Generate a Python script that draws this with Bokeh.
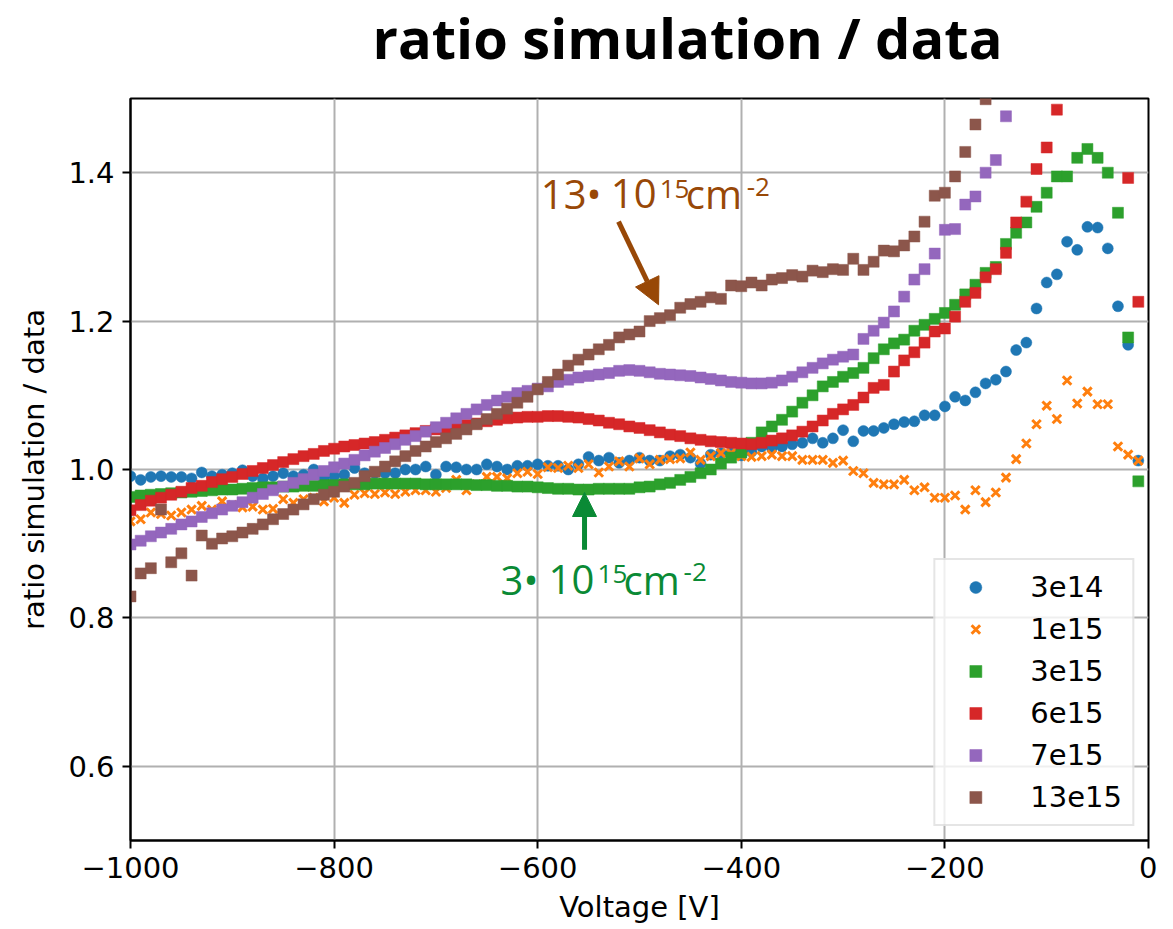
import math
from bokeh.plotting import figure
from bokeh.layouts import column
from bokeh.models import Label, Arrow, NormalHead, FixedTicker
from bokeh.embed import file_html
from bokeh.resources import INLINE

nan = float("nan")

# Voltage grid (V)
voltage = list(range(-1000, 0, 10))

s_3e14 = [0.991, 0.986, 0.990, 0.991, 0.990, 0.990, 0.988, 0.996, 0.991, 0.993,
          0.995, 0.999, 0.991, 0.988, 0.991, 0.995, 0.991, 0.993, 1.000, 0.988,
          0.991, 0.993, 1.002, 0.995, 0.995, 0.995, 0.995, 1.000, 1.000, 1.004,
          0.993, 1.004, 1.003, 1.000, 1.000, 1.007, 1.004, 1.000, 1.005, 1.005,
          1.007, 1.005, 1.005, 1.000, 1.007, 1.017, 1.012, 1.016, 1.009, 1.012,
          1.016, 1.012, 1.012, 1.018, 1.020, 1.016, 1.008, 1.020, 1.022, 1.022,
          1.019, 1.024, 1.031, 1.029, 1.031, 1.034, 1.036, 1.042, 1.036, 1.042,
          1.053, 1.038, 1.052, 1.052, 1.056, 1.061, 1.064, 1.065, 1.073, 1.073,
          1.085, 1.098, 1.093, 1.104, 1.116, 1.121, 1.132, 1.161, 1.171, 1.217,
          1.252, 1.263, 1.307, 1.296, 1.327, 1.326, 1.298, 1.220, 1.168, 1.012]

s_1e15 = [0.930, 0.933, 0.942, 0.940, 0.938, 0.942, 0.946, 0.951, 0.946, 0.957,
          0.952, 0.949, 0.950, 0.946, 0.947, 0.960, 0.955, 0.960, 0.962, 0.957,
          0.962, 0.955, 0.966, 0.968, 0.967, 0.969, 0.967, 0.970, 0.972, 0.972,
          0.970, 0.975, 0.986, 0.972, 0.980, 0.990, 0.990, 0.988, 0.995, 0.997,
          0.994, 1.003, 1.002, 1.005, 1.002, 1.007, 0.996, 1.004, 1.011, 1.004,
          1.015, 1.007, 1.013, 1.014, 1.015, 1.023, 1.013, 1.018, 1.022, 1.022,
          1.018, 1.017, 1.018, 1.020, 1.018, 1.018, 1.013, 1.013, 1.013, 1.009,
          1.012, 0.998, 0.995, 0.982, 0.980, 0.980, 0.986, 0.972, 0.976, 0.962,
          0.962, 0.965, 0.946, 0.972, 0.956, 0.969, 0.989, 1.014, 1.035, 1.061,
          1.086, 1.068, 1.120, 1.089, 1.105, 1.088, 1.088, 1.031, 1.020, 1.012]

s_3e15 = [0.963, 0.965, 0.966, 0.967, 0.968, 0.969, 0.970, 0.971, 0.972, 0.973,
          0.973, 0.974, 0.975, 0.976, 0.976, 0.977, 0.977, 0.978, 0.978, 0.979,
          0.979, 0.980, 0.980, 0.980, 0.981, 0.981, 0.981, 0.981, 0.981, 0.980,
          0.980, 0.980, 0.980, 0.980, 0.979, 0.979, 0.978, 0.978, 0.977, 0.977,
          0.976, 0.975, 0.974, 0.974, 0.973, 0.973, 0.974, 0.974, 0.974, 0.974,
          0.976, 0.977, 0.980, 0.982, 0.986, 0.990, 0.995, 1.000, 1.008, 1.016,
          1.023, 1.036, 1.050, 1.058, 1.067, 1.078, 1.090, 1.100, 1.112, 1.118,
          1.125, 1.130, 1.137, 1.150, 1.162, 1.170, 1.175, 1.187, 1.195, 1.203,
          1.211, 1.222, 1.236, 1.249, 1.265, 1.273, 1.304, 1.319, 1.333, 1.354,
          1.373, 1.395, 1.395, 1.420, 1.432, 1.420, 1.400, 1.346, 1.178, 0.984]

s_6e15 = [0.945, 0.952, 0.958, 0.962, 0.966, 0.970, 0.975, 0.978, 0.983, 0.987,
          0.990, 0.994, 0.998, 1.002, 1.006, 1.010, 1.014, 1.018, 1.021, 1.025,
          1.028, 1.031, 1.033, 1.035, 1.037, 1.040, 1.043, 1.046, 1.049, 1.052,
          1.054, 1.056, 1.058, 1.060, 1.062, 1.065, 1.067, 1.069, 1.070, 1.071,
          1.071, 1.072, 1.072, 1.071, 1.070, 1.068, 1.066, 1.063, 1.061, 1.058,
          1.056, 1.053, 1.050, 1.047, 1.045, 1.042, 1.040, 1.038, 1.037, 1.036,
          1.035, 1.034, 1.036, 1.039, 1.042, 1.046, 1.051, 1.058, 1.066, 1.075,
          1.081, 1.087, 1.097, 1.110, 1.114, 1.132, 1.147, 1.158, 1.171, 1.186,
          1.190, 1.206, 1.226, 1.238, 1.259, 1.270, 1.292, 1.333, 1.361, 1.405,
          1.434, 1.485, nan, nan, nan, nan, nan, nan, 1.393, 1.226]

s_7e15 = [0.899, 0.904, 0.910, 0.915, 0.920, 0.926, 0.930, 0.936, 0.941, 0.946,
          0.951, 0.956, 0.962, 0.967, 0.972, 0.977, 0.982, 0.987, 0.993, 0.998,
          1.003, 1.008, 1.013, 1.019, 1.024, 1.029, 1.034, 1.040, 1.045, 1.051,
          1.057, 1.063, 1.069, 1.075, 1.081, 1.087, 1.093, 1.098, 1.103, 1.106,
          1.109, 1.112, 1.118, 1.121, 1.124, 1.126, 1.128, 1.130, 1.133, 1.134,
          1.133, 1.131, 1.129, 1.128, 1.127, 1.126, 1.124, 1.122, 1.120, 1.118,
          1.117, 1.116, 1.116, 1.117, 1.120, 1.125, 1.131, 1.137, 1.143, 1.148,
          1.152, 1.155, 1.176, 1.187, 1.198, 1.213, 1.233, 1.256, 1.270, 1.291,
          1.323, 1.324, 1.357, 1.368, 1.400, 1.417, 1.476, nan, nan, nan,
          nan, nan, nan, nan, nan, nan, nan, nan, nan, nan]

s_13e15 = [0.829, 0.860, 0.867, 0.946, 0.875, 0.887, 0.857, 0.911, 0.900, 0.907,
           0.910, 0.915, 0.920, 0.926, 0.933, 0.940, 0.946, 0.953, 0.960, 0.966,
           0.970, 0.977, 0.982, 0.991, 0.997, 1.004, 1.011, 1.018, 1.025, 1.031,
           1.037, 1.042, 1.048, 1.054, 1.061, 1.068, 1.075, 1.082, 1.090, 1.098,
           1.108, 1.118, 1.128, 1.140, 1.148, 1.155, 1.162, 1.168, 1.178, 1.182,
           1.186, 1.200, 1.204, 1.208, 1.218, 1.223, 1.226, 1.232, 1.230, 1.248,
           1.247, 1.252, 1.248, 1.256, 1.258, 1.262, 1.260, 1.268, 1.266, 1.270,
           1.269, 1.284, 1.269, 1.280, 1.295, 1.294, 1.302, 1.314, 1.334, 1.369,
           1.373, 1.395, 1.428, 1.465, 1.499, nan, nan, nan, nan, nan,
           nan, nan, nan, nan, nan, nan, nan, nan, nan, nan]

series_labels = ["3e14", "1e15", "3e15", "6e15", "7e15", "13e15"]
series_values = [s_3e14, s_1e15, s_3e15, s_6e15, s_7e15, s_13e15]
series_colors = ["#1f77b4", "#ff7f0e", "#2ca02c", "#d62728", "#9467bd", "#8c564b"]
series_markers = ["circle", "x", "square", "square", "square", "square"]

x_ticks = [-1000, -800, -600, -400, -200, 0]
y_ticks = [0.6, 0.8, 1.0, 1.2, 1.4]

TITLE = "ratio simulation / data"
FONT = "DejaVu Sans"
FS = "29px"

LEFT, FRAME_W, RIGHT = 130, 1018, 9
TOP_H = 88

# ---- title strip (frame aligned with the main plot, data x == page x) ----
pt = figure(frame_width=FRAME_W, frame_height=TOP_H,
            x_range=(LEFT, LEFT + FRAME_W), y_range=(0, TOP_H), title=None,
            x_axis_location=None, y_axis_location=None,
            min_border_left=LEFT, min_border_right=RIGHT, min_border_top=0,
            min_border_bottom=0, output_backend="svg", toolbar_location=None,
            background_fill_color="white", border_fill_color="white")
pt.grid.visible = False
pt.outline_line_color = None
pt.add_layout(Label(x=372, y=52, text=TITLE, text_font="Open Sans",
                    text_font_style="bold", text_font_size="56px", text_color="black",
                    text_baseline="alphabetic", text_align="left"))

# ---- main plot ----
p = figure(frame_width=FRAME_W, frame_height=742, x_range=(-1000, 0), y_range=(0.5, 1.5),
           min_border_left=LEFT, min_border_right=RIGHT, min_border_top=10,
           min_border_bottom=80,
           output_backend="svg", toolbar_location=None, background_fill_color="white",
           border_fill_color="white")

for lab, vals, col, mk in zip(series_labels, series_values, series_colors, series_markers):
    if mk == "x":
        p.scatter(voltage, vals, marker="x", size=12, line_color=col, line_width=3,
                  legend_label=lab)
    else:
        p.scatter(voltage, vals, marker=mk, size=11, fill_color=col, line_color=col,
                  line_width=0.5, legend_label=lab)

# axes
for ax in (p.xaxis[0], p.yaxis[0]):
    ax.axis_line_width = 2
    ax.axis_line_color = "black"
    ax.major_tick_line_width = 2
    ax.major_tick_line_color = "black"
    ax.major_tick_out = 8
    ax.major_tick_in = 0
    ax.minor_tick_line_color = None
    ax.major_label_text_font = FONT
    ax.major_label_text_font_size = FS
    ax.major_label_text_color = "black"
    ax.axis_label_text_font = FONT
    ax.axis_label_text_font_size = FS
    ax.axis_label_text_font_style = "normal"
    ax.axis_label_text_color = "black"

p.xaxis.ticker = FixedTicker(ticks=x_ticks)
p.yaxis.ticker = FixedTicker(ticks=y_ticks)
p.xaxis.major_label_overrides = {t: (str(t).replace("-", "\u2212")) for t in x_ticks}
p.yaxis.major_label_overrides = {t: f"{t:.1f}" for t in y_ticks}
p.xaxis.axis_label = "Voltage [V]"
p.yaxis.axis_label = "ratio simulation / data"
p.xaxis.major_label_standoff = 8
p.yaxis.major_label_standoff = 8
p.xaxis.axis_label_standoff = 9
p.yaxis.axis_label_standoff = 14

p.xgrid.ticker = FixedTicker(ticks=x_ticks)
p.ygrid.ticker = FixedTicker(ticks=y_ticks)
p.grid.grid_line_color = "#b0b0b0"
p.grid.grid_line_width = 2

p.outline_line_color = "black"
p.outline_line_width = 2
p.outline_line_alpha = 1

# legend
lg = p.legend[0]
lg.location = "bottom_right"
lg.margin = 14
lg.padding = 10
lg.spacing = 8
lg.glyph_width = 60
lg.glyph_height = 30
lg.label_height = 30
lg.label_standoff = 25
lg.label_text_font = FONT
lg.label_text_font_size = FS
lg.label_text_color = "black"
lg.border_line_color = "#cccccc"
lg.border_line_width = 2
lg.background_fill_color = "white"
lg.background_fill_alpha = 0.8

# annotations
BROWN = "#984807"
GREEN = "#0a8a35"

def piece(text, x, y, dx, dy, size, color):
    p.add_layout(Label(x=x, y=y, x_offset=dx, y_offset=dy, text=text,
                       text_font="Open Sans", text_font_size=size, text_color=color,
                       text_baseline="alphabetic", text_align="left"))

bx, by = -597.0, 1.3475
piece("13\u2022", bx, by, 0, 18, "40px", BROWN)
piece("10", bx, by, 70, 18, "40px", BROWN)
piece("15", bx, by, 119, 23, "26px", BROWN)
piece("cm", bx, by, 145, 18, "40px", BROWN)
piece("-2", bx, by, 206, 25, "26px", BROWN)

gx, gy = -636.5, 0.8276
piece("3\u2022", gx, gy, 0, 18, "40px", GREEN)
piece("10", gx, gy, 48, 18, "40px", GREEN)
piece("15", gx, gy, 97, 23, "26px", GREEN)
piece("cm", gx, gy, 123, 18, "40px", GREEN)
piece("-2", gx, gy, 183, 25, "26px", GREEN)

p.add_layout(Arrow(end=NormalHead(size=26, fill_color=BROWN, line_color=BROWN),
                   x_start=-520.6, y_start=1.334, x_end=-481.3, y_end=1.222,
                   line_color=BROWN, line_width=5))
p.add_layout(Arrow(end=NormalHead(size=24, fill_color=GREEN, line_color=GREEN),
                   x_start=-554.0, y_start=0.892, x_end=-554.0, y_end=0.969,
                   line_color=GREEN, line_width=5))

layout = column(pt, p, spacing=0)
open("out.html", "w").write(file_html(layout, INLINE))
